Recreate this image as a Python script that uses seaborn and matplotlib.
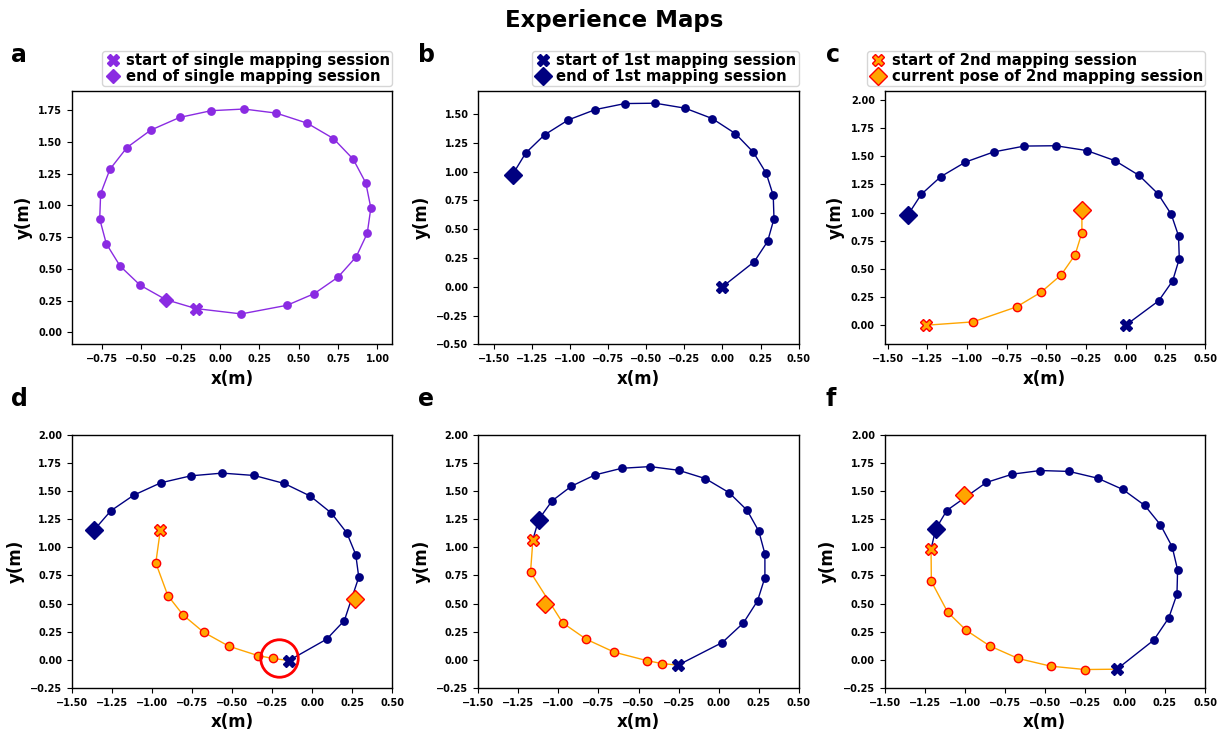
import numpy as np
import matplotlib
matplotlib.use('Agg')
import matplotlib.pyplot as plt
from matplotlib.ticker import MultipleLocator
import seaborn as sns

# %% data (metres)
# a: single mapping session (closed loop)
a_x = [-0.153, 0.135, 0.426, 0.599, 0.749, 0.865, 0.935, 0.958, 0.926, 0.846, 0.72, 0.553, 0.357,
       0.152, -0.056, -0.256, -0.44, -0.591, -0.699, -0.758, -0.764, -0.722, -0.634, -0.507, -0.345]
a_y = [0.187, 0.145, 0.213, 0.305, 0.434, 0.595, 0.779, 0.979, 1.176, 1.363, 1.526, 1.647, 1.726,
       1.758, 1.745, 1.692, 1.592, 1.455, 1.284, 1.092, 0.892, 0.697, 0.521, 0.371, 0.258]

# b, c: 1st mapping session
s1_x = [0.0, 0.208, 0.296, 0.338, 0.333, 0.287, 0.203, 0.085, -0.067, -0.245, -0.441, -0.639,
        -0.832, -1.01, -1.166, -1.289, -1.375]
s1_y = [0.0, 0.217, 0.394, 0.591, 0.794, 0.986, 1.168, 1.33, 1.461, 1.551, 1.594, 1.591,
        1.539, 1.449, 1.319, 1.162, 0.975]

# c: 2nd mapping session (last point = current pose)
c2_x = [-1.26, -0.962, -0.688, -0.534, -0.407, -0.319, -0.276, -0.276]
c2_y = [0.0, 0.03, 0.163, 0.293, 0.447, 0.625, 0.821, 1.022]

# d
d1_x = [-0.146, 0.09, 0.2, 0.29, 0.271, 0.215, 0.119, -0.0125, -0.175, -0.3625, -0.5625, -0.758,
        -0.946, -1.115, -1.258, -1.3625]
d1_y = [-0.006, 0.184, 0.349, 0.734, 0.935, 1.128, 1.303, 1.454, 1.566, 1.637, 1.658, 1.634,
        1.572, 1.462, 1.323, 1.152]
d2_x = [-0.948, -0.977, -0.902, -0.806, -0.679, -0.521, -0.34, -0.244]
d2_y = [1.157, 0.861, 0.571, 0.397, 0.246, 0.121, 0.038, 0.012]
d_cur = (0.269, 0.536)
d_circle = (-0.205, 0.012)

# e
e1_x = [-0.253, 0.023, 0.155, 0.243, 0.289, 0.289, 0.251, 0.178, 0.065, -0.082, -0.249, -0.427,
        -0.605, -0.772, -0.92, -1.04, -1.123]
e1_y = [-0.047, 0.154, 0.328, 0.524, 0.731, 0.941, 1.142, 1.328, 1.485, 1.609, 1.683, 1.716,
        1.701, 1.642, 1.541, 1.411, 1.246]
e2_x = [-1.159, -1.174, -0.973, -0.826, -0.651, -0.45, -0.354]
e2_y = [1.068, 0.778, 0.328, 0.183, 0.068, -0.006, -0.033]
e_cur = (-1.086, 0.494)

# f
f1_x = [-0.05, 0.18, 0.274, 0.325, 0.329, 0.295, 0.222, 0.124, -0.013, -0.17, -0.348, -0.528,
        -0.702, -0.865, -1.112, -1.181]
f1_y = [-0.083, 0.175, 0.373, 0.583, 0.799, 1.004, 1.199, 1.371, 1.513, 1.613, 1.673, 1.681,
        1.649, 1.575, 1.326, 1.16]
f2_x = [-1.21, -1.208, -1.106, -0.991, -0.844, -0.666, -0.463, -0.251]
f2_y = [0.983, 0.696, 0.423, 0.263, 0.124, 0.012, -0.056, -0.086]
f_cur = (-1.003, 1.465)

# %% style
purple = 'blueviolet'
navy = 'navy'
orange = 'orange'

sns.set_style('ticks', {'axes.edgecolor': 'black', 'text.color': 'black',
                        'xtick.color': 'black', 'ytick.color': 'black',
                        'axes.labelcolor': 'black'})
plt.rcParams['font.family'] = ['DejaVu Sans']
plt.rcParams['font.weight'] = 'bold'
plt.rcParams['xtick.labelsize'] = 7
plt.rcParams['ytick.labelsize'] = 7

leg_kw = dict(loc='lower right', bbox_to_anchor=(1.0, 1.018), borderaxespad=0,
              prop={'weight': 'bold', 'size': 10.7}, handlelength=1.2, handletextpad=0.3,
              labelspacing=0.05, borderpad=0.15)


def draw_line(ax, xs, ys, color):
    sns.lineplot(x=xs, y=ys, sort=False, estimator=None, color=color, linewidth=1, ax=ax)


def draw_nodes(ax, xs, ys, color, edge=None):
    if edge is None:
        sns.scatterplot(x=xs, y=ys, color=color, s=40, linewidth=0, zorder=3, ax=ax)
    else:
        sns.scatterplot(x=xs, y=ys, color=color, edgecolor=edge, s=36, linewidth=1,
                        zorder=3, ax=ax)


def session1(ax, xs, ys, link=None, labels=(None, None)):
    lx, ly = list(xs), list(ys)
    if link is not None:
        lx.append(link[0])
        ly.append(link[1])
    draw_line(ax, lx, ly, navy)
    draw_nodes(ax, xs[1:-1], ys[1:-1], navy)
    h1, = ax.plot(xs[0], ys[0], marker='X', ms=9, color=navy, ls='none', zorder=4, label=labels[0])
    h2, = ax.plot(xs[-1], ys[-1], marker='D', ms=9, color=navy, ls='none', zorder=4, label=labels[1])
    return h1, h2


def session2(ax, xs, ys, cur, link=None, labels=(None, None)):
    lx, ly = list(xs), list(ys)
    if link is not None:
        lx.append(link[0])
        ly.append(link[1])
    draw_line(ax, lx, ly, orange)
    draw_nodes(ax, xs[1:], ys[1:], orange, edge='red')
    h1, = ax.plot(xs[0], ys[0], marker='X', ms=9, mfc=orange, mec='red', mew=1, ls='none',
                  zorder=4, label=labels[0])
    h2, = ax.plot(cur[0], cur[1], marker='D', ms=9, mfc=orange, mec='red', mew=1, ls='none',
                  zorder=5, label=labels[1])
    return h1, h2


def finish(ax, xlim, ylim):
    ax.set_xlim(*xlim)
    ax.set_ylim(*ylim)
    ax.xaxis.set_major_locator(MultipleLocator(0.25))
    ax.yaxis.set_major_locator(MultipleLocator(0.25))
    ax.set_xlabel('x(m)', fontsize=12, fontweight='bold')
    ax.set_ylabel('y(m)', fontsize=12, fontweight='bold')
    for s in ax.spines.values():
        s.set_visible(True)
        s.set_linewidth(1)


# %% figure
fig, axes = plt.subplots(2, 3, figsize=(12.28, 7.29), dpi=100)
fig.subplots_adjust(left=72 / 1228, right=1205 / 1228, top=1 - 91 / 729, bottom=1 - 688 / 729,
                    wspace=0.268, hspace=0.356)
ax_a, ax_b, ax_c = axes[0]
ax_d, ax_e, ax_f = axes[1]

# a
draw_line(ax_a, a_x + [a_x[0]], a_y + [a_y[0]], purple)
draw_nodes(ax_a, a_x[1:-1], a_y[1:-1], purple)
ax_a.plot(a_x[0], a_y[0], marker='X', ms=8, color=purple, ls='none', zorder=4,
          label='start of single mapping session')
ax_a.plot(a_x[-1], a_y[-1], marker='D', ms=7, color=purple, ls='none', zorder=4,
          label='end of single mapping session')
ax_a.legend(**leg_kw)
finish(ax_a, (-0.94, 1.095), (-0.095, 1.90))

# b
session1(ax_b, s1_x, s1_y, labels=('start of 1st mapping session', 'end of 1st mapping session'))
ax_b.legend(**leg_kw)
finish(ax_b, (-1.60, 0.50), (-0.50, 1.70))

# c
session1(ax_c, s1_x, s1_y)
h = session2(ax_c, c2_x[:-1], c2_y[:-1], (c2_x[-1], c2_y[-1]), link=(c2_x[-1], c2_y[-1]),
             labels=('start of 2nd mapping session', 'current pose of 2nd mapping session'))
ax_c.legend(handles=list(h), **leg_kw)
finish(ax_c, (-1.52, 0.50), (-0.17, 2.08))

# d
session1(ax_d, d1_x, d1_y)
session2(ax_d, d2_x, d2_y, d_cur, link=(d1_x[0], d1_y[0]))
ax_d.plot(d_circle[0], d_circle[1], marker='o', ms=27, mfc='none', mec='red', mew=2,
          ls='none', zorder=6)
finish(ax_d, (-1.5, 0.5), (-0.25, 2.0))

# e
session1(ax_e, e1_x, e1_y, link=(e2_x[0], e2_y[0]))
session2(ax_e, e2_x, e2_y, e_cur, link=(e1_x[0], e1_y[0]))
finish(ax_e, (-1.5, 0.5), (-0.25, 2.0))

# f
session1(ax_f, f1_x, f1_y, link=(f2_x[0], f2_y[0]))
session2(ax_f, f2_x, f2_y, f_cur, link=(f1_x[0], f1_y[0]))
finish(ax_f, (-1.5, 0.5), (-0.25, 2.0))

# panel letters and title
for letter, (px, py) in zip('abcdef', [(11, 62), (418, 62), (826, 62),
                                       (11, 406), (418, 406), (826, 406)]):
    fig.text(px / 1228, 1 - py / 729, letter, fontsize=17, fontweight='bold',
             ha='left', va='baseline')
fig.text(0.5, 1 - 20 / 729, 'Experience Maps', fontsize=16.5, fontweight='bold',
         ha='center', va='center')

fig.savefig('out.png', dpi=100)
